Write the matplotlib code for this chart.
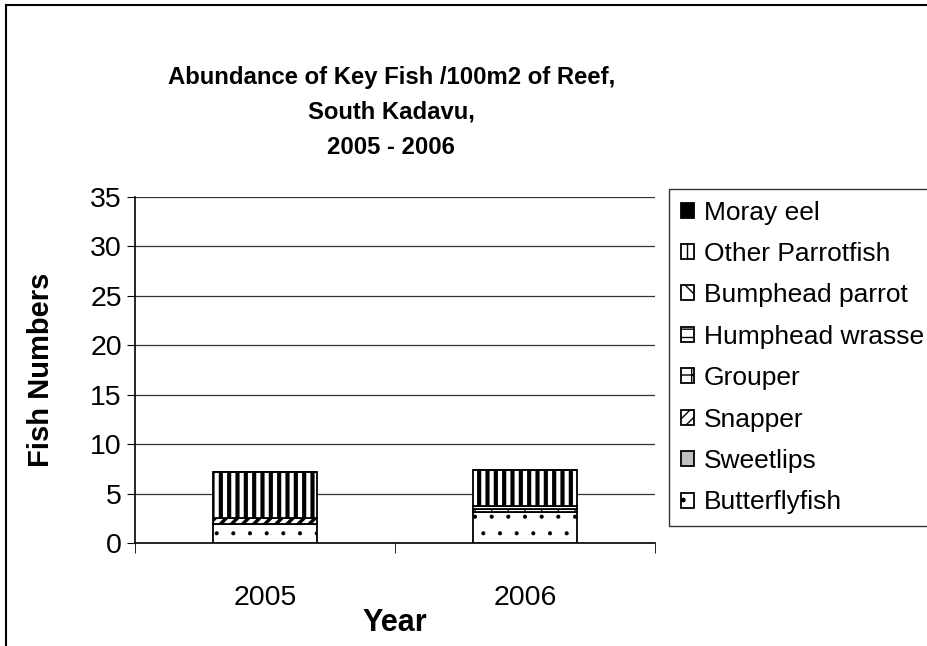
import numpy as np
import matplotlib.pyplot as plt
from matplotlib.patches import Rectangle

plt.rcParams['font.family'] = ['Liberation Sans', 'DejaVu Sans']

# Dati (pesci / 100 m2)
years = ['2005', '2006']
butterflyfish = [1.97, 3.15]
sweetlips = [0.0, 0.0]
snapper = [0.6, 0.0]
grouper = [0.0, 0.28]
humphead_wrasse = [0.0, 0.35]
bumphead_parrot = [0.0, 0.0]
other_parrotfish = [4.6, 3.58]
moray_eel = [0.0, 0.0]

series = [
    ('Butterflyfish', butterflyfish, 'white', '.', 0.5, '#777777'),
    ('Sweetlips', sweetlips, '#c0c0c0', None, 1.0, 'black'),
    ('Snapper', snapper, 'white', '///', 2.5, 'black'),
    ('Grouper', grouper, 'white', '+', 1.0, 'black'),
    ('Humphead wrasse', humphead_wrasse, 'white', '--', 1.0, 'black'),
    ('Bumphead parrot', bumphead_parrot, 'white', 'x', 1.0, 'black'),
    ('Other Parrotfish', other_parrotfish, 'white', '||', 3.0, 'black'),
    ('Moray eel', moray_eel, 'black', None, 1.0, 'black'),
]

fig = plt.figure(figsize=(9.27, 6.46), dpi=100)
ax = fig.add_axes([0.1456, 0.1594, 0.561, 0.5356])

x = np.arange(len(years))
bottom = np.zeros(len(years))
handles = []
for name, vals, col, hatch, hlw, hcol in series:
    with plt.rc_context({'hatch.linewidth': hlw, 'hatch.color': hcol}):
        b = ax.bar(x, vals, width=0.4, bottom=bottom, color=col, edgecolor='black',
                   linewidth=1.3, hatch=hatch, label=name, zorder=3)
    handles.append(b)
    bottom = bottom + np.array(vals)

ax.set_xlim(-0.5, 1.5)
ax.set_ylim(0, 35)
ax.set_yticks(np.arange(0, 36, 5))
ax.yaxis.grid(True, color='#333333', linewidth=0.9, zorder=0)
ax.set_xticks(x)
ax.set_xticklabels(years)
ax.set_xticks([-0.5, 0.5, 1.5], minor=True)
ax.tick_params(axis='x', which='major', length=0, pad=30, labelsize=20.5)
ax.tick_params(axis='x', which='minor', length=7, direction='out')
ax.tick_params(axis='y', labelsize=20.5, length=6, direction='out')
for s in ['top', 'right']:
    ax.spines[s].set_visible(False)
ax.spines['left'].set_linewidth(1.2)
ax.spines['bottom'].set_linewidth(1.2)

ax.set_xlabel('Year', fontsize=22, fontweight='bold', labelpad=-2)
ax.set_ylabel('Fish Numbers', fontsize=21, fontweight='bold', labelpad=25)

fig.text(0.422, 0.826, 'Abundance of Key Fish /100m2 of Reef,\nSouth Kadavu,\n2005 - 2006',
         ha='center', va='center', fontsize=17.2, fontweight='bold', linespacing=1.66)

leg = fig.legend(handles[::-1], [s[0] for s in series][::-1], loc='upper left',
                 bbox_to_anchor=(0.722, 0.708), fontsize=19, frameon=True,
                 fancybox=False, edgecolor='black', handlelength=0.5, handleheight=0.5,
                 handletextpad=0.35, labelspacing=0.66, borderpad=0.45, borderaxespad=0)
leg.get_frame().set_linewidth(1.0)

fig.patches.append(Rectangle((6 / 927, -0.1), 1.2, 1.1 - 5 / 646, transform=fig.transFigure,
                             fill=False, edgecolor='black', linewidth=1.5))

plt.savefig('out.png', dpi=100)
